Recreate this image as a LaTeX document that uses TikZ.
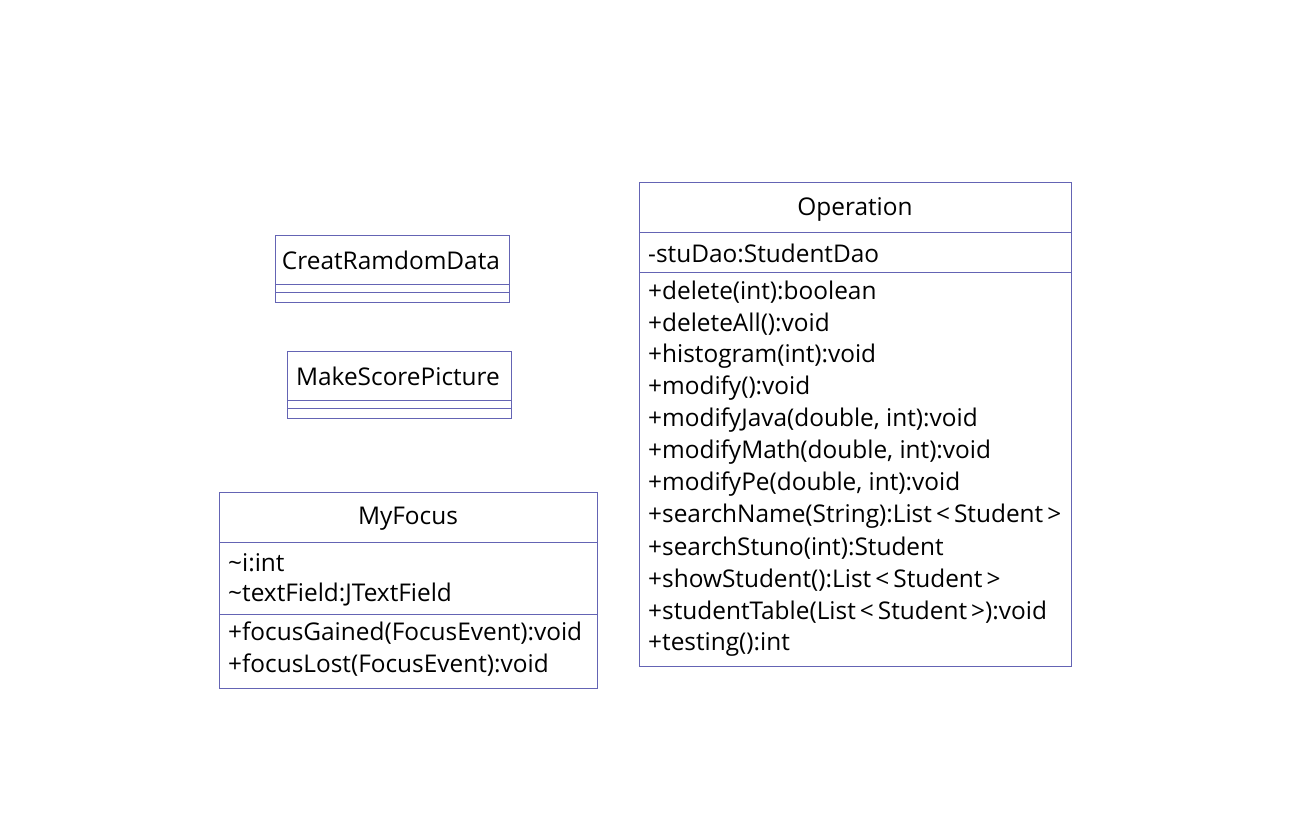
\documentclass[tikz,border=0pt]{standalone}
\usepackage{fontspec}
\setmainfont{Open Sans}
\begin{document}
\begin{tikzpicture}[x=1pt,y=-1pt,
  box/.style={draw=umlline,line width=0.9pt},
  sep/.style={draw=umlline,line width=0.9pt},
  txt/.style={anchor=west,inner sep=0pt,font=\fontsize{24.4}{28}\selectfont},
  ttl/.style={anchor=center,inner sep=0pt,font=\fontsize{24.4}{28}\selectfont}]
\definecolor{umlline}{RGB}{100,100,180}
\useasboundingbox (0,0) rectangle (1298,825);
% CreatRamdomData
\draw[box] (275,235) rectangle (509,302);
\draw[sep] (275,284) -- (509,284);
\draw[sep] (275,292) -- (509,292);
\node[ttl] (crd) at (391,260) {CreatRamdomData};
% MakeScorePicture
\draw[box] (287,351) rectangle (511,418);
\draw[sep] (287,400) -- (511,400);
\draw[sep] (287,408) -- (511,408);
\node[ttl] (msp) at (398,376) {MakeScorePicture};
% MyFocus
\draw[box] (219,492) rectangle (597,688);
\draw[sep] (219,542) -- (597,542);
\draw[sep] (219,614) -- (597,614);
\node[ttl] (mf) at (408,519) {MyFocus};
\node[txt] (mf1) at (228,563) {\textasciitilde i:int};
\node[txt] (mf2) at (228,595) {\textasciitilde textField:JTextField};
\node[txt] (mf3) at (228,633) {+focusGained(FocusEvent):void};
\node[txt] (mf4) at (228,665) {+focusLost(FocusEvent):void};
% Operation
\draw[box] (639,182) rectangle (1071,666);
\draw[sep] (639,232) -- (1071,232);
\draw[sep] (639,272) -- (1071,272);
\node[ttl] (op) at (855,209) {Operation};
\node[txt] (op0) at (648,253) {-stuDao:StudentDao};
\node[txt] (op1) at (648,292) {+delete(int):boolean};
\node[txt] (op2) at (648,324) {+deleteAll():void};
\node[txt] (op3) at (648,356) {+histogram(int):void};
\node[txt] (op4) at (648,388) {+modify():void};
\node[txt] (op5) at (648,420) {+modifyJava(double, int):void};
\node[txt] (op6) at (648,452) {+modifyMath(double, int):void};
\node[txt] (op7) at (648,484) {+modifyPe(double, int):void};
\node[txt] (op8) at (648,516) {+searchName(String):List\,<\,Student\,>};
\node[txt] (op9) at (648,548) {+searchStuno(int):Student};
\node[txt] (op10) at (648,580) {+showStudent():List\,<\,Student\,>};
\node[txt] (op11) at (648,612) {+studentTable(List\,<\,Student\,>):void};
\node[txt] (op12) at (648,644) {+testing():int};
\end{tikzpicture}
\end{document}
